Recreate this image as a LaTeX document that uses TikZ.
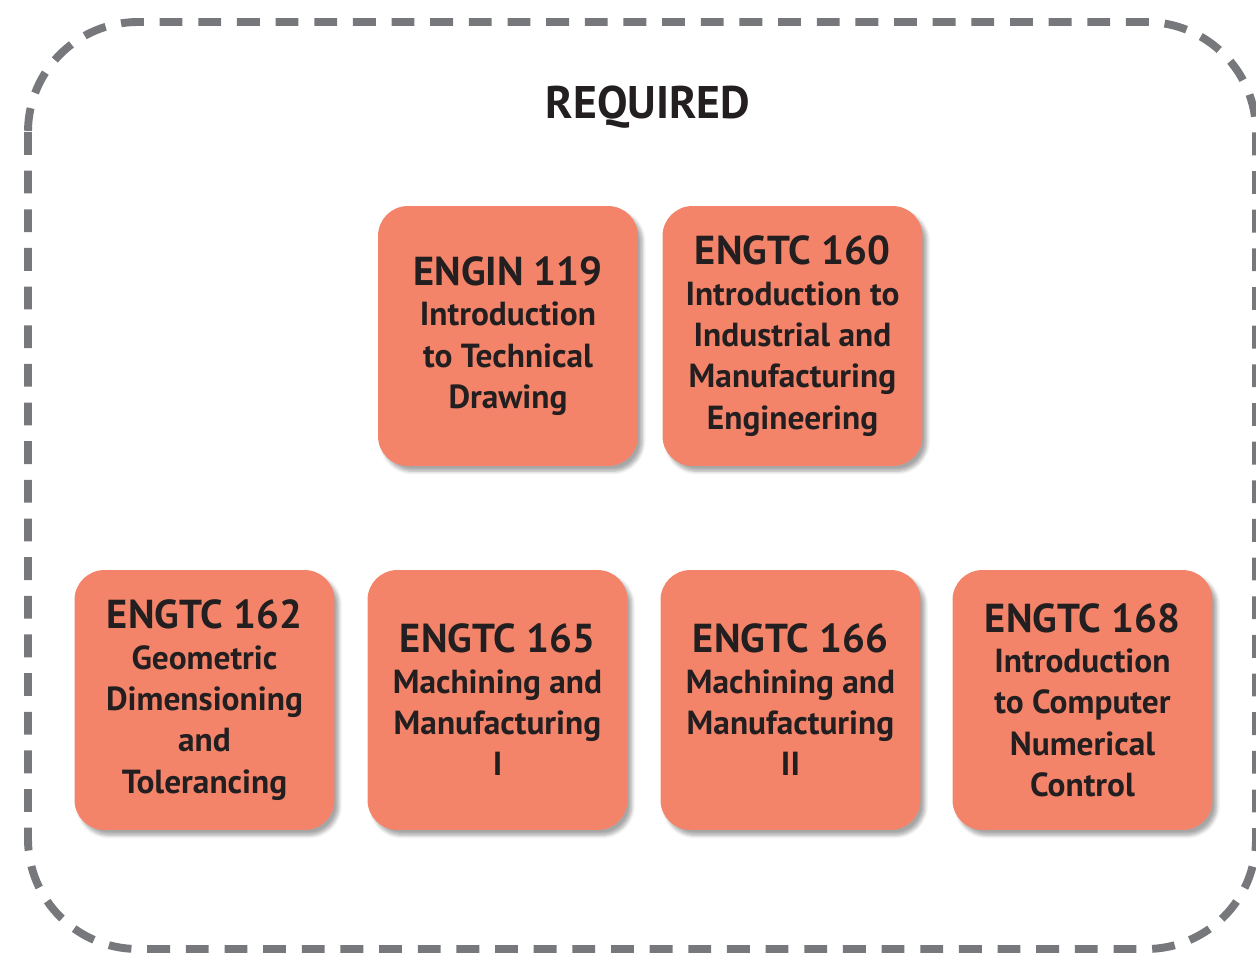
\documentclass[tikz,border=0pt]{standalone}
\usepackage{fontspec}
\setmainfont{PT Sans}
\usetikzlibrary{shadows.blur}
\definecolor{salmon}{HTML}{F48469}
\definecolor{inkdark}{HTML}{231F20}
\definecolor{dashgray}{HTML}{77787B}
\tikzset{
  coursebox/.style={fill=salmon,rounded corners=17pt,minimum width=5.2cm,minimum height=5.2cm,
    align=center,text=inkdark,inner sep=0pt,
    font=\fontsize{19}{23.5}\selectfont\bfseries,
    blur shadow={shadow xshift=2.5pt,shadow yshift=-3pt,shadow blur steps=6,shadow opacity=35}},
}
\newcommand{\ccode}[1]{{\fontsize{23}{25}\selectfont #1}\\[-0.5pt]}
\begin{document}
\begin{tikzpicture}[x=0.02cm,y=-0.02cm]
        \useasboundingbox (0,0) rectangle (1256,957);
        %% Frame
        \draw[dashgray,line width=4.5pt,dash pattern=on 13pt off 9pt,rounded corners=2.2cm]
          (28,22) rectangle (1256,949);
        \node[text=inkdark,font=\fontsize{26}{30}\selectfont\bfseries] (req) at (648,107) {REQUIRED};
        %% Top row
        \node[coursebox] (e119) at (508,336) {\ccode{ENGIN 119}Introduction\\to Technical\\Drawing};
        \node[coursebox] (e160) at (792.5,336) {\ccode{ENGTC 160}Introduction to\\Industrial and\\Manufacturing\\Engineering};
        %% Bottom row
        \node[coursebox] (e162) at (204.5,700) {\ccode{ENGTC 162}Geometric\\Dimensioning\\and\\Tolerancing};
        \node[coursebox] (e165) at (497.5,700) {\ccode{ENGTC 165}Machining and\\Manufacturing\\I};
        \node[coursebox] (e166) at (790.5,700) {\ccode{ENGTC 166}Machining and\\Manufacturing\\II};
        \node[coursebox] (e168) at (1082.5,700) {\ccode{ENGTC 168}Introduction\\to Computer\\Numerical\\Control};
    \end{tikzpicture}
\end{document}
